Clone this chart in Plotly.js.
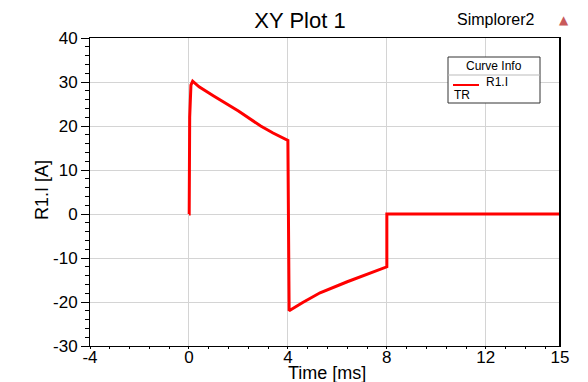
<!DOCTYPE html>
<html>
<head>
<meta charset="utf-8">
<script src="https://cdn.plot.ly/plotly-3.0.1.min.js"></script>
<style>html,body{margin:0;padding:0;background:#fff;}#chart{width:588px;height:382px;}</style>
</head>
<body>
<div id="chart"></div>
<script>
// Time [ms]
const timeMs = [0, 0.01, 0.03, 0.08, 0.15, 0.41, 1.0, 2.0, 2.9, 3.4, 4.0, 4.0, 4.05, 4.6, 5.3, 6.4, 7.2, 8.0, 8.0, 15];
// R1.I [A]
const currentA = [0, 0, 22, 29.3, 30.2, 28.9, 26.8, 23.4, 20.0, 18.4, 16.7, 16.7, -22.0, -20.1, -17.9, -15.4, -13.7, -12.0, 0, 0];

const xTickVals = [-4, 0, 4, 8, 12, 15];
const xTickText = ["-4", "0", "4", "8", "12", "15"];
const yTickVals = [-30, -20, -10, 0, 10, 20, 30, 40];
const yTickText = ["-30", "-20", "-10", "0", "10", "20", "30", "40"];
const seriesName = "R1.I";
const legendHeader = "Curve Info";
const legendSub = "TR";

const font = "Liberation Sans, Arial, sans-serif";
const L = 90, R = 28, T = 38, B = 36;
const W = 588, H = 382;
const pw = W - L - R, ph = H - T - B;
const px = v => (v - L) / pw;
const py = v => (H - B - v) / ph;

const trace = {
  x: timeMs, y: currentA, type: "scatter", mode: "lines", name: seriesName,
  line: {color: "#ff0000", width: 3}, showlegend: false
};

const layout = {
  width: W, height: H,
  margin: {l: L, r: R, t: T, b: B},
  paper_bgcolor: "#fff", plot_bgcolor: "#fff",
  font: {family: font, color: "#000"},
  title: {text: "XY Plot 1", x: 300 / W, xanchor: "center", y: 1 - 20 / H, yanchor: "middle",
          font: {family: font, size: 22, color: "#000"}},
  xaxis: {
    range: [-4, 15], tickmode: "array", tickvals: xTickVals, ticktext: xTickText,
    ticks: "", tickcolor: "#000", ticklabelstandoff: -4,
    tickfont: {family: font, size: 17, color: "#000"},
    showgrid: true, gridcolor: "#d4d4d4", gridwidth: 1, zeroline: false,
    showline: true, linecolor: "#000", linewidth: 1, mirror: true,
    minor: {tick0: -4, dtick: 0.8, ticks: "outside", ticklen: 2, tickcolor: "#000", showgrid: false},
    fixedrange: true
  },
  yaxis: {
    range: [-30, 40], tickmode: "array", tickvals: yTickVals, ticktext: yTickText,
    ticks: "outside", ticklen: 8, tickcolor: "#000",
    tickfont: {family: font, size: 17, color: "#000"},
    showgrid: true, gridcolor: "#d4d4d4", gridwidth: 1, zeroline: false,
    showline: true, linecolor: "#000", linewidth: 1, mirror: true,
    minor: {tick0: 0, dtick: 2, ticks: "outside", ticklen: 4, tickcolor: "#000", showgrid: false},
    fixedrange: true
  },
  shapes: [
    {type: "line", xref: "paper", yref: "paper", x0: 1, x1: 1, y0: 0, y1: 1,
     line: {color: "#000", width: 2}, layer: "above"},
    {type: "rect", xref: "paper", yref: "paper", x0: px(448), x1: px(540), y0: py(103), y1: py(57),
     line: {color: "#333", width: 1}, fillcolor: "#fff", layer: "above"},
    {type: "line", xref: "paper", yref: "paper", x0: px(448), x1: px(540), y0: py(75), y1: py(75),
     line: {color: "#bbb", width: 1}, layer: "above"},
    {type: "line", xref: "paper", yref: "paper", x0: px(453), x1: px(479), y0: py(85), y1: py(85),
     line: {color: "#ff0000", width: 2}, layer: "above"}
  ],
  annotations: [
    {text: legendHeader, xref: "paper", yref: "paper", x: px(494), y: py(66), xanchor: "center", yanchor: "middle",
     showarrow: false, font: {family: font, size: 12, color: "#000"}},
    {text: seriesName, xref: "paper", yref: "paper", x: px(484), y: py(82), xanchor: "left", yanchor: "middle",
     showarrow: false, font: {family: font, size: 12, color: "#000"}},
    {text: legendSub, xref: "paper", yref: "paper", x: px(452), y: py(95), xanchor: "left", yanchor: "middle",
     showarrow: false, font: {family: font, size: 12, color: "#000"}},
    {text: "Simplorer2", xref: "paper", yref: "paper", x: px(495), y: py(20), xanchor: "center", yanchor: "middle",
     showarrow: false, font: {family: font, size: 16, color: "#000"}},
    {text: "▲", xref: "paper", yref: "paper", x: px(564), y: py(20), xanchor: "center", yanchor: "middle",
     showarrow: false, font: {family: "DejaVu Sans, sans-serif", size: 12, color: "#c85a5a"}},
    {text: "Time [ms]", xref: "paper", yref: "paper", x: px(327), y: py(373), xanchor: "center", yanchor: "middle",
     showarrow: false, font: {family: font, size: 18, color: "#000"}},
    {text: "R1.I [A]", xref: "paper", yref: "paper", x: px(42), y: py(190), xanchor: "center", yanchor: "middle",
     textangle: -90, showarrow: false, font: {family: font, size: 18, color: "#000"}}
  ]
};

Plotly.newPlot("chart", [trace], layout, {displayModeBar: false, staticPlot: true});
</script>
</body>
</html>
